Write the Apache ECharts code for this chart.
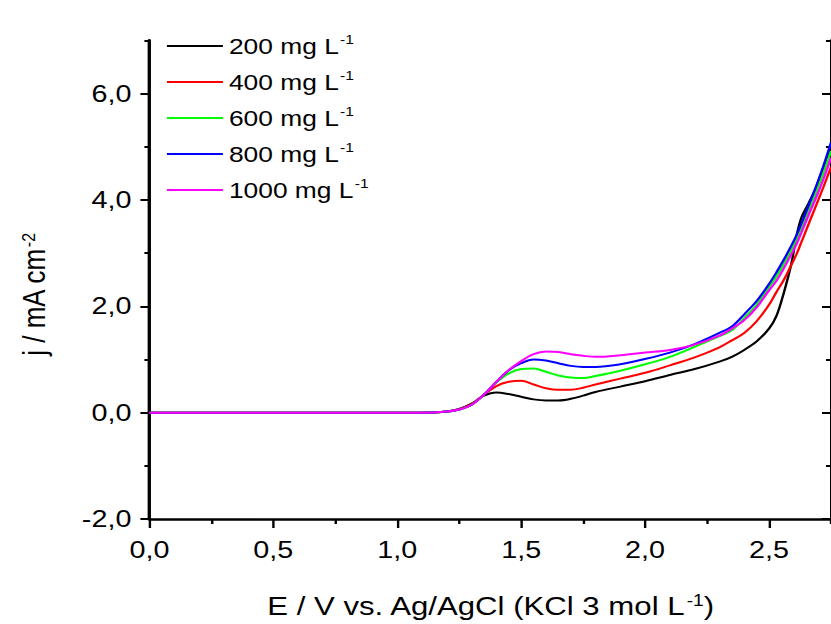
<!DOCTYPE html>
<html>
<head>
<meta charset="utf-8">
<style>
  html, body { margin: 0; padding: 0; background: #fff; overflow: hidden; }
  /* the figure is laid out on a narrower canvas and widened horizontally */
  #chart { width: 693px; height: 624px; transform: scaleX(1.19913); transform-origin: 0 0; }
</style>
<script src="https://cdn.jsdelivr.net/npm/echarts@6/dist/echarts.min.js"></script>
</head>
<body>
<div id="chart"></div>
<script>
// Linear sweep voltammograms: current density vs. potential for five concentrations
const potential = [0, 1.0, 1.15, 1.2, 1.25, 1.3, 1.35, 1.4, 1.45, 1.5, 1.55, 1.6, 1.65, 1.7, 1.75, 1.8, 1.9, 2.0, 2.1, 2.2, 2.3, 2.35, 2.4, 2.45, 2.5, 2.53, 2.56, 2.59, 2.61, 2.63, 2.66, 2.69, 2.72, 2.75];

const j200  = [0, 0, 0.005, 0.02, 0.07, 0.17, 0.32, 0.38, 0.35, 0.30, 0.25, 0.23, 0.23, 0.26, 0.32, 0.39, 0.49, 0.59, 0.71, 0.82, 0.96, 1.05, 1.18, 1.34, 1.58, 1.82, 2.26, 2.80, 3.30, 3.66, 3.94, 4.24, 4.62, 5.00];
const j400  = [0, 0, 0.005, 0.02, 0.07, 0.16, 0.34, 0.50, 0.58, 0.60, 0.53, 0.46, 0.43, 0.43, 0.47, 0.53, 0.64, 0.75, 0.89, 1.04, 1.23, 1.36, 1.50, 1.72, 2.03, 2.27, 2.50, 2.78, 2.97, 3.20, 3.55, 3.90, 4.25, 4.62];
const j600  = [0, 0, 0.005, 0.02, 0.06, 0.15, 0.34, 0.57, 0.74, 0.82, 0.83, 0.77, 0.70, 0.66, 0.65, 0.69, 0.79, 0.91, 1.05, 1.24, 1.44, 1.55, 1.78, 2.03, 2.36, 2.56, 2.80, 3.06, 3.25, 3.46, 3.80, 4.15, 4.52, 4.92];
const j800  = [0, 0, 0.005, 0.02, 0.06, 0.15, 0.34, 0.58, 0.80, 0.93, 1.00, 0.98, 0.93, 0.88, 0.86, 0.86, 0.91, 1.01, 1.13, 1.29, 1.50, 1.62, 1.85, 2.10, 2.42, 2.64, 2.88, 3.14, 3.33, 3.55, 3.90, 4.26, 4.65, 5.08];
const j1000 = [0, 0, 0.005, 0.02, 0.06, 0.15, 0.34, 0.58, 0.80, 0.97, 1.10, 1.15, 1.14, 1.10, 1.07, 1.05, 1.08, 1.13, 1.18, 1.28, 1.45, 1.58, 1.74, 1.98, 2.30, 2.48, 2.72, 2.98, 3.16, 3.38, 3.72, 4.05, 4.40, 4.80];

const concentrations = ['200', '400', '600', '800', '1000'];
const currents = [j200, j400, j600, j800, j1000];
const colors = ['#000000', '#ff0000', '#00ff00', '#0000ff', '#ff00ff'];

const xMajorTicks = [0, 0.5, 1.0, 1.5, 2.0, 2.5];
const xMinorTicks = [0.25, 0.75, 1.25, 1.75, 2.25, 2.75];
const yMajorTicks = [-2, 0, 2, 4, 6];
const yMinorTicks = [-1, 1, 3, 5, 7];

const FONT = '"Liberation Sans", Arial, sans-serif';
const comma = v => v.toFixed(1).replace('.', ',');
const supStyle = { fontFamily: FONT, fontSize: 13, color: '#000', verticalAlign: 'top', padding: [0, 0, 0, 1] };

const chart = echarts.init(document.getElementById('chart'), null, { renderer: 'svg' });

function xAxisDef(ticks, len, withLabels) {
  return {
    type: 'value', position: 'bottom', min: 0, max: 2.75, interval: 0.25,
    axisLine: { show: withLabels, onZero: false, lineStyle: { color: '#000', width: 2.5 } },
    axisTick: { show: true, customValues: ticks, length: len, inside: false, lineStyle: { color: '#000', width: 2 } },
    axisLabel: withLabels ? {
      show: true, customValues: xMajorTicks, formatter: comma, margin: 19,
      fontFamily: FONT, fontSize: 24, color: '#000'
    } : { show: false },
    splitLine: { show: false },
    name: withLabels ? 'E / V vs. Ag/AgCl (KCl 3 mol L{sup|-1})' : '',
    nameLocation: 'middle', nameGap: 74,
    nameTextStyle: { fontFamily: FONT, fontSize: 26, color: '#000', rich: { sup: Object.assign({}, supStyle, { fontSize: 16 }) } }
  };
}

function yAxisDef(pos, ticks, len, inside, withLabels) {
  return {
    type: 'value', position: pos, min: -2, max: 7, interval: 1,
    axisLine: { show: true, onZero: false, lineStyle: { color: '#000', width: 2.5 } },
    axisTick: { show: true, customValues: ticks, length: len, inside: inside, lineStyle: { color: '#000', width: 2 } },
    axisLabel: withLabels ? {
      show: true, customValues: yMajorTicks, formatter: comma, margin: 15,
      fontFamily: FONT, fontSize: 24, color: '#000'
    } : { show: false },
    splitLine: { show: false },
    name: withLabels ? 'j / mA cm{sup|-2}' : '',
    nameLocation: 'middle', nameGap: 83,
    nameTextStyle: {
      fontFamily: FONT, fontSize: 26, color: '#000', padding: [0, 30, 0, 0],
      rich: { sup: Object.assign({}, supStyle, { fontSize: 16 }) }
    }
  };
}

chart.setOption({
  animation: false,
  backgroundColor: '#ffffff',
  grid: { left: 124.6, right: -2.5, top: 40.5, bottom: 103 },
  xAxis: [
    xAxisDef(xMajorTicks, 9, true),
    xAxisDef(xMinorTicks, 5, false)
  ],
  yAxis: [
    yAxisDef('left', yMajorTicks, 7.5, false, true),
    yAxisDef('left', yMinorTicks, 4.2, false, false),
    yAxisDef('right', yMajorTicks, 7.5, true, false),
    yAxisDef('right', yMinorTicks, 4.2, true, false)
  ],
  legend: {
    orient: 'vertical', left: 139.2, top: 33, padding: 0,
    icon: 'rect', itemWidth: 46.7, itemHeight: 2.2, itemGap: 10,
    data: concentrations,
    formatter: name => name + ' mg L{sup|-1}',
    textStyle: {
      fontFamily: FONT, fontSize: 22, color: '#000', lineHeight: 26,
      rich: { sup: supStyle }
    }
  },
  series: concentrations.map((c, i) => ({
    name: c,
    type: 'line',
    xAxisIndex: 0,
    yAxisIndex: 0,
    data: potential.map((v, k) => [v, currents[i][k]]),
    showSymbol: false,
    symbol: 'none',
    smooth: 0.35,
    lineStyle: { color: colors[i], width: 2 },
    itemStyle: { color: colors[i] }
  }))
});
</script>
</body>
</html>
